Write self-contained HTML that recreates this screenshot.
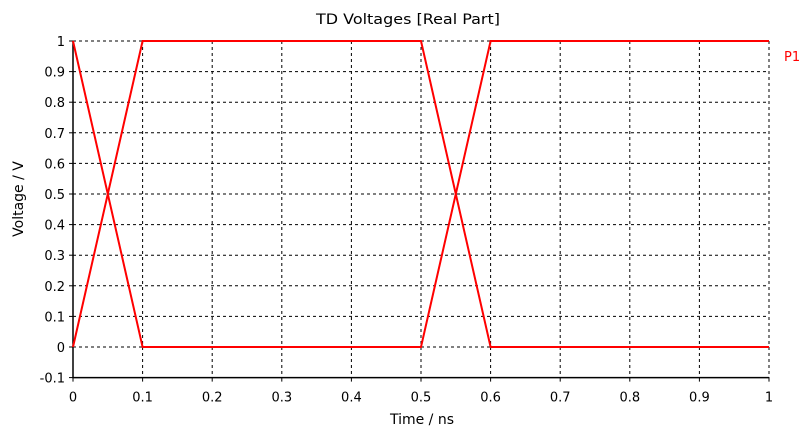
<!DOCTYPE html>
<html><head><meta charset="utf-8"><style>
body{margin:0;background:#fff;width:809px;height:432px;overflow:hidden}
text{font-family:"DejaVu Sans","Liberation Sans",sans-serif;font-size:13px;fill:#000}
.ttl{font-size:14px}
</style></head><body>
<svg id="chart" width="809" height="432" xmlns="http://www.w3.org/2000/svg">
<text class="ttl" x="408" y="24" text-anchor="middle" textLength="184" lengthAdjust="spacingAndGlyphs">TD Voltages [Real Part]</text>
<text class="ttl" x="422" y="424" text-anchor="middle">Time / ns</text>
<text class="ttl" transform="translate(23,199) rotate(-90)" text-anchor="middle">Voltage / V</text>
<text x="784" y="61" style="fill:#f00">P1</text>
<g id="grid"></g><g id="axes"></g><g id="series"></g>
</svg>
<script>
const xTicks=[0,0.1,0.2,0.3,0.4,0.5,0.6,0.7,0.8,0.9,1];
const yTicks=[-0.1,0,0.1,0.2,0.3,0.4,0.5,0.6,0.7,0.8,0.9,1];
const seriesATime=[0,0.1,0.5,0.6,1];
const seriesAVolt=[0,1,1,0,0];
const seriesBTime=[0,0.1,0.5,0.6,1];
const seriesBVolt=[1,0,0,1,1];
const X0=73,X1=769,Y0=377.6,Y1=41;
const xs=v=>X0+(v-0)/(1-0)*(X1-X0);
const ys=v=>Y0-(v+0.1)/(1.1)*(Y0-Y1);
const NS="http://www.w3.org/2000/svg";
function mk(tag,parent){const e=document.createElementNS(NS,tag);document.getElementById(parent).appendChild(e);return e;}
xTicks.forEach(t=>{
 if(t>0){const g=mk('line','grid');
 
 
 g.setAttribute('x1',xs(t));g.setAttribute('x2',xs(t));g.setAttribute('y1',Y1);g.setAttribute('y2',Y0);
 g.setAttribute('stroke','#000');g.setAttribute('stroke-dasharray','3,3');}
 const tk=mk('line','axes');
 
 
 tk.setAttribute('x1',xs(t));tk.setAttribute('x2',xs(t));tk.setAttribute('y1',Y0);tk.setAttribute('y2',Y0+4);tk.setAttribute('stroke','#000');
 const l=mk('text','axes');
 
 
 l.setAttribute('x',xs(t));l.setAttribute('y',Y0+24);l.setAttribute('text-anchor','middle');l.textContent=String(t);
});
yTicks.forEach(t=>{
 if(t>-0.1){const g=mk('line','grid');
 
 
 g.setAttribute('x1',X0);g.setAttribute('x2',X1);g.setAttribute('y1',ys(t));g.setAttribute('y2',ys(t));
 g.setAttribute('stroke','#000');g.setAttribute('stroke-dasharray','3,3');}
 const tk=mk('line','axes');
 
 
 tk.setAttribute('x1',X0-4);tk.setAttribute('x2',X0);tk.setAttribute('y1',ys(t));tk.setAttribute('y2',ys(t));tk.setAttribute('stroke','#000');
 const l=mk('text','axes');
 
 
 l.setAttribute('x',X0-8);l.setAttribute('y',ys(t)+5);l.setAttribute('text-anchor','end');l.textContent=String(t);
});
const ax=mk('path','axes');


ax.setAttribute('d',`M${X0},${Y1}V${Y0}H${X1}`);ax.setAttribute('stroke','#000');ax.setAttribute('fill','none');ax.setAttribute('stroke-width','1.5');
function drawSeries(ts,vs,name){
 const p=mk('polyline','series');
 
 
 p.setAttribute('points',ts.map((t,i)=>xs(t)+','+ys(vs[i])).join(' '));
 p.setAttribute('fill','none');p.setAttribute('stroke','#f00');p.setAttribute('stroke-width','2');
}
drawSeries(seriesATime,seriesAVolt,'p1-trace-a');
drawSeries(seriesBTime,seriesBVolt,'p1-trace-b');
</script>
</body></html>
